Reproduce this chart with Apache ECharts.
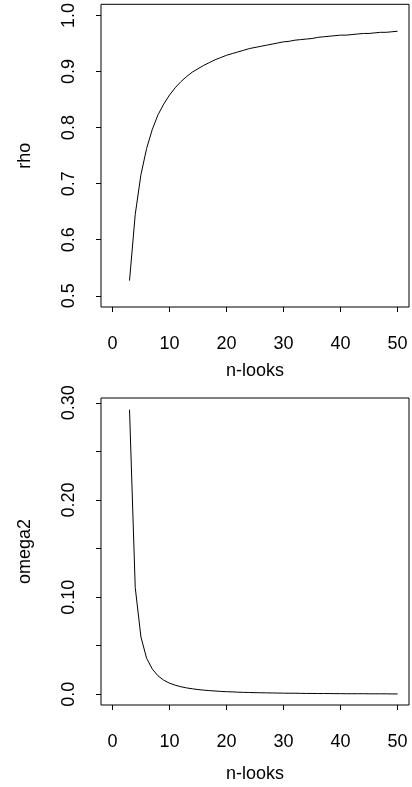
<!DOCTYPE html>
<html lang="en">
<head>
  <meta charset="UTF-8">
  <title>rho / omega2 vs n-looks</title>
  <script src="https://cdn.jsdelivr.net/npm/echarts@6/dist/echarts.min.js"></script>
  <style>
    html, body { margin: 0; padding: 0; background: #fff; }
    #chart { width: 412px; height: 787px; }
  </style>
</head>
<body>
<div id="chart"></div>
<script>
  // n-looks from 3 to 50
  var looks = [3, 4, 5, 6, 7, 8, 9, 10, 11, 12, 13, 14, 15, 16, 17, 18, 19, 20,
    21, 22, 23, 24, 25, 26, 27, 28, 29, 30, 31, 32, 33, 34, 35, 36, 37, 38, 39, 40,
    41, 42, 43, 44, 45, 46, 47, 48, 49, 50];
  // top panel
  var rho = [0.527, 0.645, 0.716, 0.763, 0.797, 0.823, 0.842, 0.858, 0.871, 0.882,
    0.891, 0.899, 0.905, 0.911, 0.916, 0.921, 0.925, 0.929, 0.932, 0.935,
    0.938, 0.941, 0.943, 0.945, 0.947, 0.949, 0.951, 0.953, 0.954, 0.956,
    0.957, 0.958, 0.959, 0.961, 0.962, 0.963, 0.964, 0.965, 0.965, 0.966,
    0.967, 0.968, 0.968, 0.969, 0.970, 0.970, 0.971, 0.972];
  // bottom panel
  var omega2 = [0.293, 0.110, 0.059, 0.037, 0.026, 0.019, 0.0145, 0.0115, 0.0094, 0.0078,
    0.0066, 0.0057, 0.0049, 0.0043, 0.0038, 0.0034, 0.0030, 0.0027, 0.0025, 0.0022,
    0.0020, 0.0019, 0.0017, 0.0016, 0.0015, 0.0014, 0.0013, 0.0012, 0.0011, 0.0011,
    0.0010, 0.0009, 0.0009, 0.0008, 0.0008, 0.0008, 0.0007, 0.0007, 0.0006, 0.0006,
    0.0006, 0.0006, 0.0005, 0.0005, 0.0005, 0.0005, 0.0004, 0.0004];

  // tick labels
  var xTicks = [0, 10, 20, 30, 40, 50];
  var rhoTicks = [0.5, 0.6, 0.7, 0.8, 0.9, 1.0];
  var omegaTicks = [0, 0.05, 0.10, 0.15, 0.20, 0.25, 0.30];
  var omegaLabels = [0, 0.10, 0.20, 0.30];

  var font = '"Liberation Sans", Arial, sans-serif';
  var fs = 18;

  function pairs(xs, ys) {
    var out = [];
    for (var i = 0; i < xs.length; i++) out.push([xs[i], ys[i]]);
    return out;
  }

  function xAxisOf(idx, labelGap, nameGap) {
    return {
      type: 'value', gridIndex: idx, min: -2, max: 52,
      name: 'n-looks', nameLocation: 'middle', nameGap: nameGap,
      nameTextStyle: {fontFamily: font, fontSize: fs, color: '#000'},
      splitLine: {show: false},
      axisLine: {show: false, onZero: false},
      axisTick: {show: true, length: 5, lineStyle: {color: '#000'}, customValues: xTicks},
      axisLabel: {fontFamily: font, fontSize: fs, color: '#000', margin: labelGap, customValues: xTicks}
    };
  }

  var myChart = echarts.init(document.getElementById('chart'));
  var option = {
    animation: false,
    backgroundColor: '#fff',
    grid: [
      {left: 101, top: 2, width: 308, height: 305, show: true, borderColor: '#000', borderWidth: 1},
      {left: 101, top: 398, width: 308, height: 307, show: true, borderColor: '#000', borderWidth: 1}
    ],
    xAxis: [xAxisOf(0, 28, 55), xAxisOf(1, 28, 60)],
    yAxis: [
      {
        type: 'value', gridIndex: 0, min: 0.48, max: 1.02,
        name: 'rho', nameLocation: 'middle', nameRotate: 90, nameGap: 67,
        nameTextStyle: {fontFamily: font, fontSize: fs, color: '#000'},
        splitLine: {show: false},
        axisLine: {show: false, onZero: false},
        axisTick: {show: true, length: 5, lineStyle: {color: '#000'}, customValues: rhoTicks},
        axisLabel: {
          fontFamily: font, fontSize: fs, color: '#000', rotate: 90, margin: 23,
          customValues: rhoTicks,
          formatter: function (v) { return v.toFixed(1); }
        }
      },
      {
        type: 'value', gridIndex: 1, min: -0.011, max: 0.305,
        name: 'omega2', nameLocation: 'middle', nameRotate: 90, nameGap: 67,
        nameTextStyle: {fontFamily: font, fontSize: fs, color: '#000'},
        splitLine: {show: false},
        axisLine: {show: false, onZero: false},
        axisTick: {show: true, length: 5, lineStyle: {color: '#000'}, customValues: omegaTicks},
        axisLabel: {
          fontFamily: font, fontSize: fs, color: '#000', rotate: 90, margin: 23,
          customValues: omegaLabels,
          formatter: function (v) { return v === 0 ? '0.0' : v.toFixed(2); }
        }
      }
    ],
    series: [
      {
        name: 'rho', type: 'line', xAxisIndex: 0, yAxisIndex: 0,
        data: pairs(looks, rho), showSymbol: false,
        lineStyle: {color: '#000', width: 1}
      },
      {
        name: 'omega2', type: 'line', xAxisIndex: 1, yAxisIndex: 1,
        data: pairs(looks, omega2), showSymbol: false,
        lineStyle: {color: '#000', width: 1}
      }
    ]
  };
  option && myChart.setOption(option);
</script>
</body>
</html>
